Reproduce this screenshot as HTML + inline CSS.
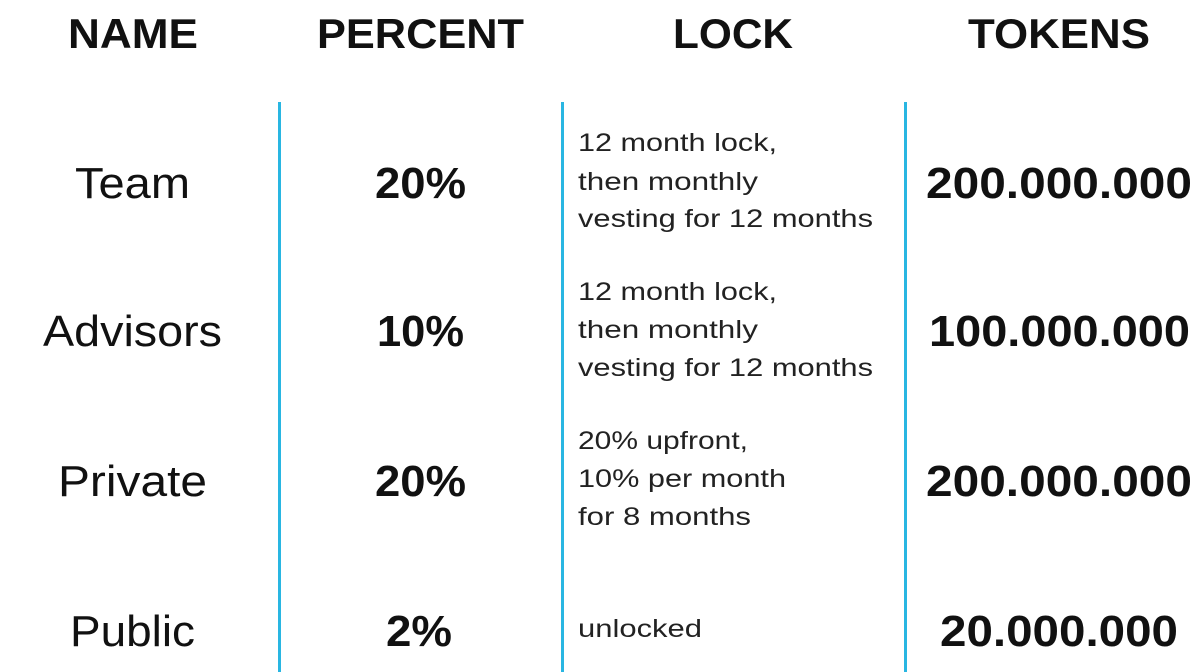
<!DOCTYPE html>
<html><head><meta charset="utf-8"><style>
html,body{margin:0;padding:0;background:#fff;width:1200px;height:672px;overflow:hidden}
svg{display:block}
text{font-family:"Liberation Sans",sans-serif;fill:#111}
.h{font-size:42px;font-weight:bold}
.n{font-size:44px}
.b{font-size:44px;font-weight:bold}
.l{font-size:25px;fill:#222}
</style></head><body>
<svg width="1200" height="672" viewBox="0 0 1200 672">
<rect x="278" y="102" width="3" height="570" fill="#29b6e2"/>
<rect x="561" y="102" width="3" height="570" fill="#29b6e2"/>
<rect x="904" y="102" width="3" height="570" fill="#29b6e2"/>
<text class="h" x="68" y="48" textLength="130" lengthAdjust="spacingAndGlyphs">NAME</text>
<text class="h" x="317" y="48" textLength="207" lengthAdjust="spacingAndGlyphs">PERCENT</text>
<text class="h" x="673" y="48" textLength="120" lengthAdjust="spacingAndGlyphs">LOCK</text>
<text class="h" x="968" y="48" textLength="182" lengthAdjust="spacingAndGlyphs">TOKENS</text>

<text class="n" x="75" y="198" textLength="115" lengthAdjust="spacingAndGlyphs">Team</text>
<text class="n" x="43" y="346" textLength="179" lengthAdjust="spacingAndGlyphs">Advisors</text>
<text class="n" x="58" y="496" textLength="149" lengthAdjust="spacingAndGlyphs">Private</text>
<text class="n" x="70" y="646" textLength="125" lengthAdjust="spacingAndGlyphs">Public</text>

<text class="b" x="375" y="198" textLength="91" lengthAdjust="spacingAndGlyphs">20%</text>
<text class="b" x="377" y="346" textLength="87" lengthAdjust="spacingAndGlyphs">10%</text>
<text class="b" x="375" y="496" textLength="91" lengthAdjust="spacingAndGlyphs">20%</text>
<text class="b" x="386" y="646" textLength="66" lengthAdjust="spacingAndGlyphs">2%</text>

<text class="l" x="578" y="151" textLength="199" lengthAdjust="spacingAndGlyphs">12 month lock,</text>
<text class="l" x="578" y="190" textLength="180" lengthAdjust="spacingAndGlyphs">then monthly</text>
<text class="l" x="578" y="227" textLength="295" lengthAdjust="spacingAndGlyphs">vesting for 12 months</text>
<text class="l" x="578" y="300" textLength="199" lengthAdjust="spacingAndGlyphs">12 month lock,</text>
<text class="l" x="578" y="338" textLength="180" lengthAdjust="spacingAndGlyphs">then monthly</text>
<text class="l" x="578" y="376" textLength="295" lengthAdjust="spacingAndGlyphs">vesting for 12 months</text>
<text class="l" x="578" y="449" textLength="170" lengthAdjust="spacingAndGlyphs">20% upfront,</text>
<text class="l" x="578" y="487" textLength="208" lengthAdjust="spacingAndGlyphs">10% per month</text>
<text class="l" x="578" y="525" textLength="173" lengthAdjust="spacingAndGlyphs">for 8 months</text>
<text class="l" x="578" y="637" textLength="124" lengthAdjust="spacingAndGlyphs">unlocked</text>

<text class="b" x="926" y="198" textLength="266" lengthAdjust="spacingAndGlyphs">200.000.000</text>
<text class="b" x="929" y="346" textLength="261" lengthAdjust="spacingAndGlyphs">100.000.000</text>
<text class="b" x="926" y="496" textLength="266" lengthAdjust="spacingAndGlyphs">200.000.000</text>
<text class="b" x="940" y="646" textLength="238" lengthAdjust="spacingAndGlyphs">20.000.000</text>
</svg>
</body></html>
